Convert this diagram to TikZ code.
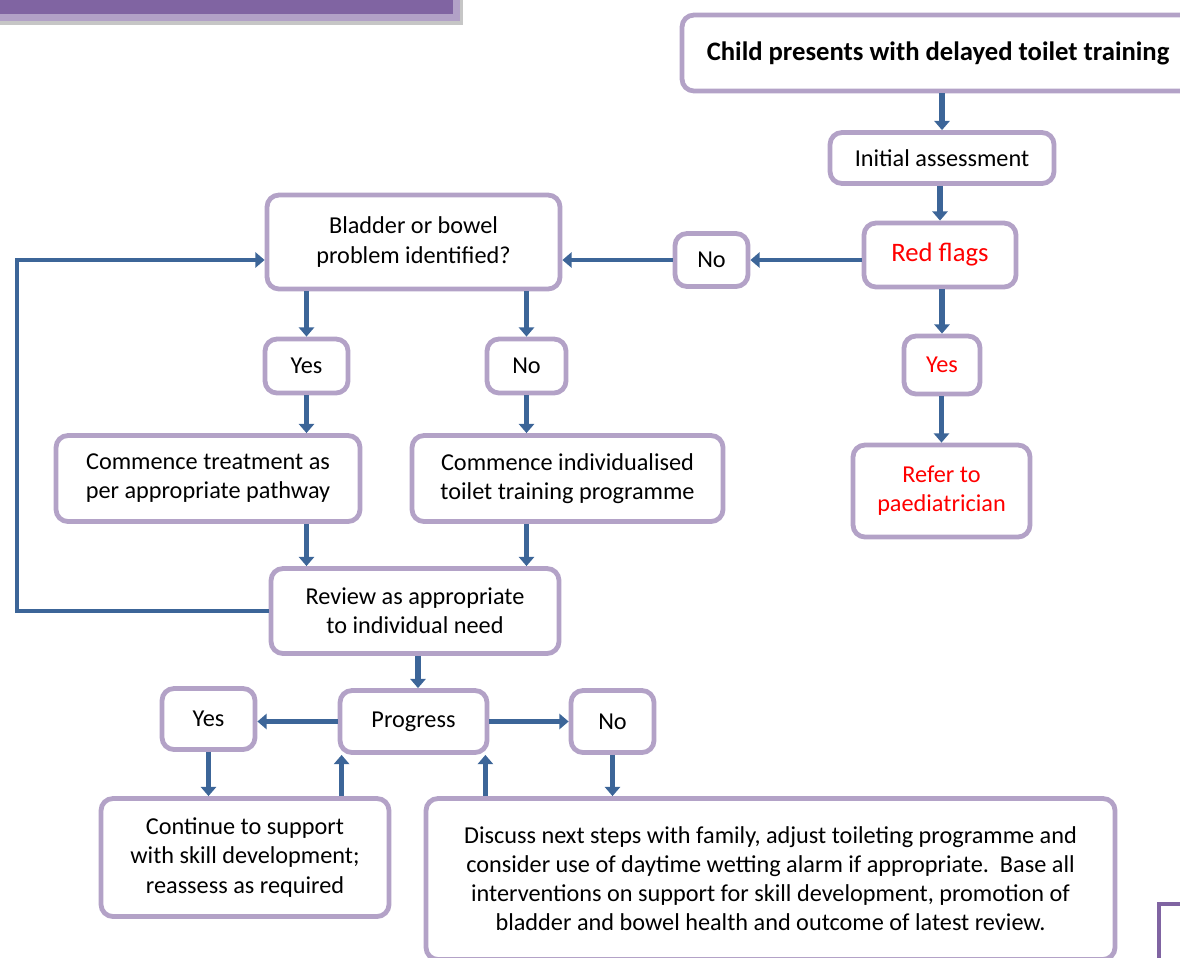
\documentclass[tikz,border=0pt]{standalone}
\usepackage{fontspec}
\setmainfont{Carlito}
\usetikzlibrary{arrows.meta,calc}
\definecolor{boxline}{HTML}{B3A2C7}
\definecolor{arrowc}{HTML}{3C6598}
\definecolor{barpurple}{HTML}{8064A2}
\definecolor{barlight}{HTML}{B2A1C7}
\definecolor{redtxt}{HTML}{FF0000}
\begin{document}
\begin{tikzpicture}[x=0.75pt,y=-0.75pt,
  box/.style={draw=boxline, line width=3.6pt, rounded corners=9pt, fill=white,
    align=center, inner sep=0pt, font=\fontsize{18.2}{21.8}\selectfont},
  sz/.style 2 args={minimum width=#1*0.75pt, minimum height=#2*0.75pt},
  flow/.style={draw=arrowc, line width=3.4pt, -{Triangle[width=11.5pt,length=7pt]}},
  vflow/.style={flow, line width=4.2pt},
]
\useasboundingbox (0,0) rectangle (1180,957);
\clip (0,0) rectangle (1180,957);

% header bar, top left
\fill[gray!45] (0,-5) rectangle (463,25);
\fill[barlight] (0,-5) rectangle (460,21);
\fill[barpurple] (0,-5) rectangle (453,14);

% partial frame, bottom right
\draw[barpurple, line width=2.4pt] (1159,960) -- (1159,904) -- (1185,904);

% boxes
\node[box, sz={512}{76}, font=\fontsize{20}{24}\selectfont\bfseries] (title) at (938,53) {Child presents with delayed toilet training};
\node[box, sz={224}{51}] (init) at (942,158) {Initial assessment};
\node[box, sz={152}{64}, text=redtxt, font=\fontsize{20}{24}\selectfont] (red) at (940,255) {Red flags};
\node[box, sz={76}{58}, text=redtxt] (yesR) at (942,365) {Yes};
\node[box, sz={177}{92}, text=redtxt] (refer) at (941.5,491) {Refer to\\paediatrician};
\node[box, sz={73}{53}] (noTop) at (711.5,260) {No};
\node[box, sz={293}{94}] (blad) at (413.5,242) {Bladder or bowel\\problem identified?};
\node[box, sz={83}{54}] (yesL) at (306.5,366) {Yes};
\node[box, sz={79}{54}] (noM) at (526.5,366) {No};
\node[box, sz={304}{86}] (treat) at (208,478.5) {Commence treatment as\\per appropriate pathway};
\node[box, sz={311}{86}] (indiv) at (567.5,478.5) {Commence individualised\\toilet training programme};
\node[box, sz={288}{85}] (review) at (415,611) {Review as appropriate\\to individual need};
\node[box, sz={147}{62}] (prog) at (413.5,721.5) {Progress};
\node[box, sz={93}{61}] (yesB) at (208.5,719) {Yes};
\node[box, sz={83}{62}] (noB) at (612.5,721.5) {No};
\node[box, sz={288}{118}] (cont) at (245,857.5) {Continue to support\\with skill development;\\reassess as required};
\node[box, sz={689}{161}] (disc) at (770.5,879) {Discuss next steps with family, adjust toileting programme and\\consider use of daytime wetting alarm if appropriate.\ \ Base all\\interventions on support for skill development, promotion of\\bladder and bowel health and outcome of latest review.};

% helper points for the loop and the upward returns
\coordinate (loopx) at (17,0);
\coordinate (revx) at (418,0);
\coordinate (progL) at ($(prog.south west)+(4,0)$);
\coordinate (progR) at ($(prog.south east)+(-4,0)$);

% connectors
\draw[vflow] (title.south -| init.north) -- (init.north);
\draw[vflow] (init.south -| red.north) -- (red.north);
\draw[vflow] (red.south -| yesR.north) -- (yesR.north);
\draw[vflow] (yesR.south -| refer.north) -- (refer.north);
\draw[flow] (red.west |- noTop) -- (noTop.east);
\draw[flow] (noTop.west) -- (blad.east |- noTop);
\draw[vflow] (blad.south -| yesL) -- (yesL.north);
\draw[vflow] (blad.south -| noM) -- (noM.north);
\draw[vflow] (yesL.south) -- (yesL.south |- treat.north);
\draw[vflow] (noM.south) -- (noM.south |- indiv.north);
\draw[vflow] (treat.south -| yesL) -- (review.north -| yesL);
\draw[vflow] (indiv.south -| noM) -- (review.north -| noM);
\draw[flow] (review.west) -- (review.west -| loopx) |- (blad.west |- noTop);
\draw[vflow] (review.south -| revx) -- (prog.north -| revx);
\draw[flow] (prog.west) -- (yesB.east |- prog.west);
\draw[flow] (prog.east) -- (noB.west);
\draw[vflow] (yesB.south) -- (yesB.south |- cont.north);
\draw[vflow] (progL |- cont.north) -- (progL);
\draw[vflow] (progR |- disc.north) -- (progR);
\draw[vflow] (noB.south) -- (noB.south |- disc.north);
\end{tikzpicture}
\end{document}
